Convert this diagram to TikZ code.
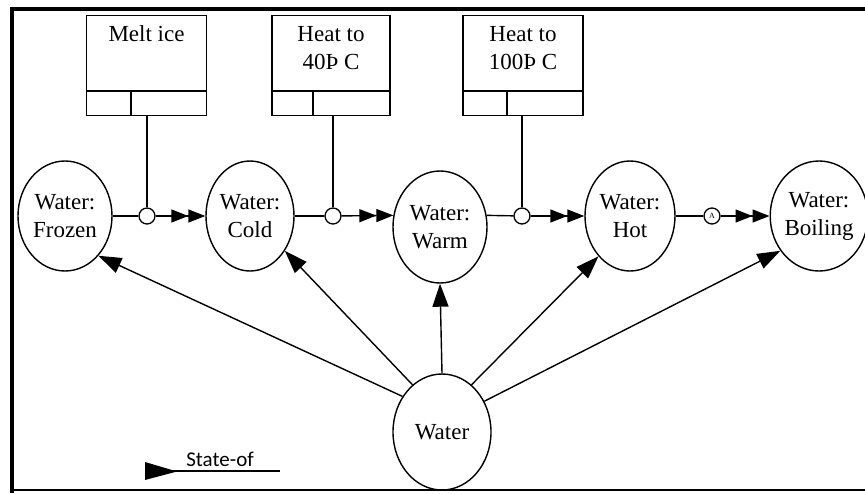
\documentclass[tikz,border=0pt]{standalone}
\usepackage{fontspec}
\setmainfont{Liberation Serif}
\newfontfamily\legendfont{Carlito}
\usetikzlibrary{shapes.geometric,arrows.meta}

\begin{document}
\begin{tikzpicture}[x=1pt,y=-1pt,
  state/.style={ellipse, draw, line width=1.4pt, inner sep=0pt,
    minimum width=94pt, minimum height=110pt, align=center,
    font=\fontsize{23}{28}\selectfont},
  actbox/.style={rectangle, draw, line width=1.5pt, inner sep=0pt,
    minimum width=120pt, minimum height=100pt},
  acttext/.style={anchor=north, align=center, inner sep=0pt,
    font=\fontsize{23}{28}\selectfont},
  junction/.style={circle, draw, line width=1.3pt, inner sep=0pt,
    minimum size=16pt},
  link/.style={line width=1.4pt},
  next/.style={link, -{Triangle[length=17pt,width=13pt]Triangle[length=17pt,width=13pt]}},
  stateof/.style={link, -{Triangle[length=23pt,width=16pt]}}
]
\useasboundingbox (0,0) rectangle (865,493);

% frame
\draw[line width=4pt] (12,493) -- (12,9) -- (865,9);
\draw[line width=2.5pt] (10,490) -- (865,490);

% action boxes
\node[actbox] (b1) at (146.5,65.5) {};
\node[acttext] at ([yshift=-11pt]b1.north) {Melt ice};
\draw[line width=1.5pt] (b1.west |- 0,91) -- (b1.east |- 0,91);
\draw[line width=1.5pt] (131,91) -- (131,115.5);

\node[actbox, minimum width=118pt] (b2) at (331,65.5) {};
\node[acttext] at ([yshift=-11pt]b2.north) {Heat to\\40Þ C};
\draw[line width=1.5pt] (b2.west |- 0,91) -- (b2.east |- 0,91);
\draw[line width=1.5pt] (313,91) -- (313,115.5);

\node[actbox] (b3) at (523,65.5) {};
\node[acttext] at ([yshift=-11pt]b3.north) {Heat to\\100Þ C};
\draw[line width=1.5pt] (b3.west |- 0,91) -- (b3.east |- 0,91);
\draw[line width=1.5pt] (507,91) -- (507,115.5);

% states
\node[state] (frozen) at (65,216) {Water:\\Frozen};
\node[state, minimum width=88pt] (cold) at (250,216) {Water:\\Cold};
\node[state, minimum height=112pt] (warm) at (440,227) {Water:\\Warm};
\node[state, minimum width=90pt] (hot) at (630,216) {Water:\\Hot};
\node[state, minimum width=92pt] (boiling) at (819,216) {Water:\\Boiling};
\node[state, minimum width=98pt, minimum height=116pt] (water) at (442,432) {Water};

% junctions
\node[junction] (j1) at (147,216) {};
\node[junction] (j2) at (333,216) {};
\node[junction] (j3) at (522,216) {};
\node[junction, font=\fontsize{8}{8}\selectfont] (j4) at (712,216) {A};

% transitions
\draw[link] (b1.south -| j1) -- (j1.north);
\draw[link] (b2.south -| j2) -- (j2.north);
\draw[link] (b3.south -| j3) -- (j3.north);

\draw[link] (frozen.east) -- (j1);
\draw[next] (j1) -- (cold.west);
\draw[link] (cold.east) -- (j2);
\draw[next] (j2) -- (warm.166);
\draw[link] (warm.14) -- (j3);
\draw[next] (j3) -- (hot.west);
\draw[link] (hot.east) -- (j4);
\draw[next] (j4) -- (boiling.west);

% state-of relations
\draw[stateof] (water.138) -- (frozen.-50);
\draw[stateof] (water.122) -- (cold.-45);
\draw[stateof] (water.north) -- (warm.south);
\draw[stateof] (water.58) -- (hot.-128);
\draw[stateof] (water.36) -- (boiling.-138);

% legend
\coordinate (lgA) at (145,471);
\coordinate (lgB) at (280,471);
\draw[line width=1.2pt] (lgA) -- (lgB);
\fill (145,462) -- (177,471.5) -- (145,480) -- cycle;
\node[anchor=base, font=\legendfont\fontsize{21}{24}\selectfont] (lgT) at (220,466) {State-of};
\end{tikzpicture}
\end{document}
